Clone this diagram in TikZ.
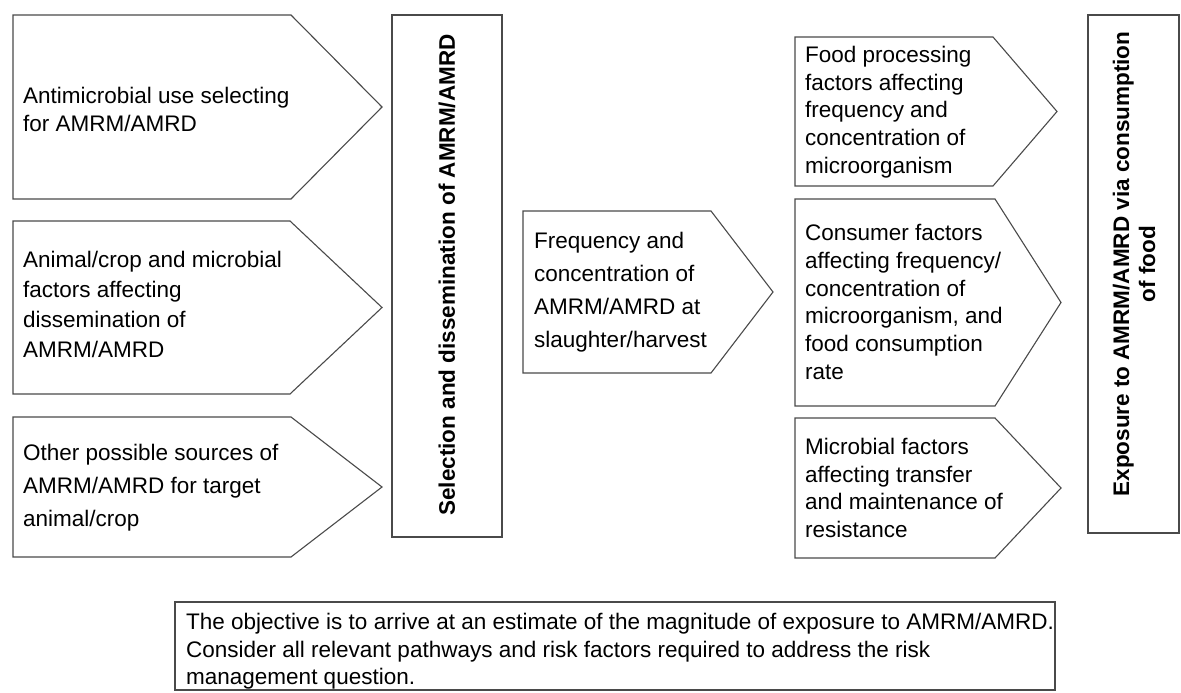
\documentclass[tikz,border=0pt]{standalone}
\usepackage{fontspec}
\setmainfont{Liberation Sans}
\definecolor{edge}{HTML}{4A4A4A}
\tikzset{
  boxline/.style={draw=edge, line width=1.1pt, fill=white},
  txt/.style={font=\fontsize{22.5}{#1}\selectfont, align=left, inner sep=0pt, anchor=west, text=black},
  vtxt/.style={font=\fontsize{22.5}{#1}\selectfont\bfseries, align=center, inner sep=0pt, rotate=90, text=black}
}
\newcommand\penta[5]{\draw[boxline] (#1,#2) -- (#3,#2) -- (#4,{(#2+#5)/2}) -- (#3,#5) -- (#1,#5) -- cycle;}
\begin{document}
\begin{tikzpicture}[x=1pt,y=-1pt]
\useasboundingbox[fill=white] (0,0) rectangle (1181,693);
% left column
\penta{13}{15}{291}{382}{199}
\node[txt=28] (t1) at (23,109) {Antimicrobial use selecting\\for AMRM/AMRD};
\penta{13}{221}{290}{382}{394}
\node[txt=30] (t2) at (23,304) {Animal/crop and microbial\\factors affecting\\dissemination of\\AMRM/AMRD};
\penta{13}{417}{291}{382}{557}
\node[txt=33] (t3) at (23,488) {Other possible sources of\\AMRM/AMRD for target\\animal/crop};
% selection bar
\draw[boxline] (392,15) rectangle (502,537);
\node[vtxt=26] (sel) at (447,275) {Selection and dissemination of AMRM/AMRD};
% frequency
\penta{523}{211}{711}{773}{373}
\node[txt=33] (fr) at (534,292) {Frequency and\\concentration of\\AMRM/AMRD at\\slaughter/harvest};
% right column
\penta{795}{37}{993}{1057}{186}
\node[txt=27.7] (fp) at (805,112) {Food processing\\factors affecting\\frequency and\\concentration of\\microorganism};
\penta{795}{199}{995}{1061}{406}
\node[txt=27.7] (cf) at (805,302) {Consumer factors\\affecting frequency/\\concentration of\\microorganism, and\\food consumption\\rate};
\penta{795}{418}{995}{1061}{558}
\node[txt=27.7] (mf) at (805,488) {Microbial factors\\affecting transfer\\and maintenance of\\resistance};
% exposure bar
\draw[boxline] (1088,15) rectangle (1179,533);
\node[vtxt=26] (ex) at (1134,264) {Exposure to AMRM/AMRD via consumption\\of food};
% bottom box
\draw[boxline] (175,602) rectangle (1055,690);
\node[txt=27.5, anchor=north west] (obj) at (186,613) {The objective is to arrive at an estimate of the magnitude of exposure to AMRM/AMRD.\\Consider all relevant pathways and risk factors required to address the risk\\management question.};
\end{tikzpicture}
\end{document}
